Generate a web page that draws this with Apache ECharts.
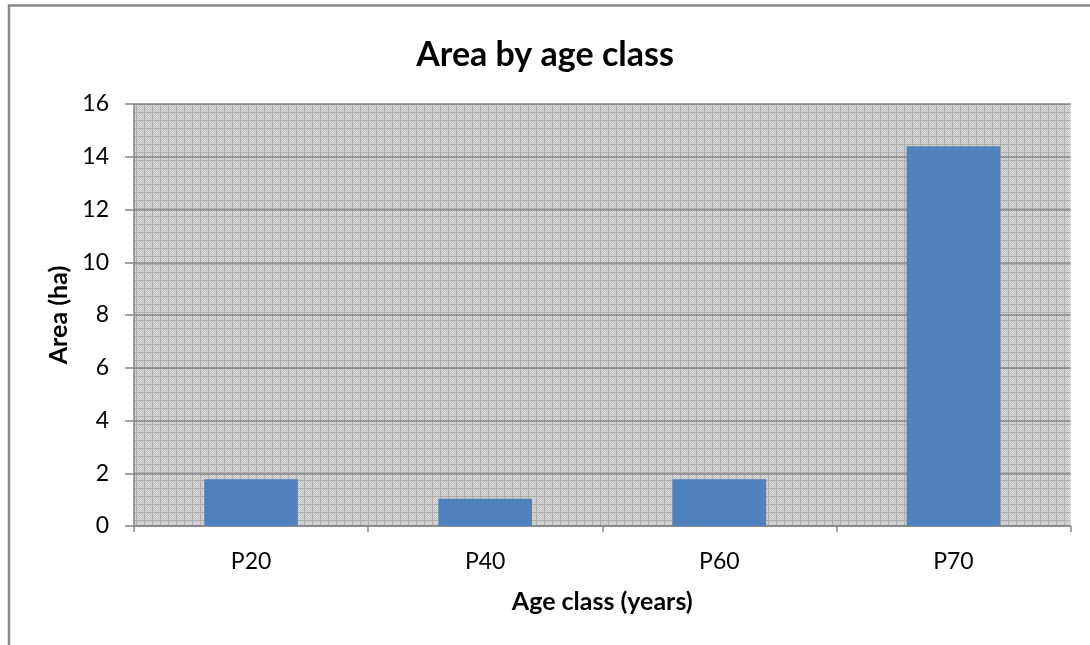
<!DOCTYPE html>
<html>
<head>
<meta charset="utf-8">
<script src="https://cdn.jsdelivr.net/npm/echarts@6/dist/echarts.min.js"></script>
<style>
  html, body { margin: 0; padding: 0; background: #ffffff; }
  #chart { width: 1090px; height: 645px; }
</style>
</head>
<body>
<div id="chart"></div>
<script>
// Age classes and their area in hectares
const categories = ['P20', 'P40', 'P60', 'P70'];
const areaHa = [1.77, 1.03, 1.77, 14.4];
const yTicks = { min: 0, max: 16, interval: 2 };

const titleText = 'Area by age class';
const xAxisTitle = 'Age class (years)';
const yAxisTitle = 'Area (ha)';

// Small cross-hatched tile used as the plot-area fill
function makeHatchTile() {
  const c = document.createElement('canvas');
  c.width = 8; c.height = 8;
  const g = c.getContext('2d');
  for (let y = 0; y < 8; y++) {
    for (let x = 0; x < 8; x++) {
      let col;
      if (x === 0 || y === 0) col = '#acacac';
      else col = ((x + y) % 2 === 0) ? '#dadada' : '#c2c2c2';
      g.fillStyle = col;
      g.fillRect(x, y, 1, 1);
    }
  }
  return c;
}

const font = 'Lato, "Open Sans", sans-serif';
const axisGrey = '#868686';

const chart = echarts.init(document.getElementById('chart'), null, { renderer: 'canvas' });

chart.setOption({
  backgroundColor: '#ffffff',
  animation: false,
  title: {
    text: titleText,
    left: 'center',
    top: 33,
    textStyle: { fontFamily: font, fontSize: 34, fontWeight: 'bold', color: '#000000' }
  },
  grid: {
    left: 134,
    right: 19.5,
    top: 104,
    bottom: 119,
    show: true,
    borderWidth: 0,
    backgroundColor: { image: makeHatchTile(), repeat: 'repeat' }
  },
  graphic: [
    {
      type: 'polyline',
      shape: { points: [[9, 645], [9, 5.5], [1090, 5.5]] },
      style: { stroke: '#8a8a8a', lineWidth: 2.5, fill: null },
      silent: true
    }
  ],
  xAxis: {
    type: 'category',
    data: categories,
    boundaryGap: true,
    name: xAxisTitle,
    nameLocation: 'middle',
    nameGap: 63,
    nameTextStyle: { fontFamily: font, fontSize: 25, fontWeight: 'bold', color: '#000000' },
    axisLine: { show: true, lineStyle: { color: axisGrey, width: 1.5 } },
    axisTick: { show: true, length: 6, alignWithLabel: false, interval: 0, lineStyle: { color: axisGrey, width: 1.5 } },
    axisLabel: { fontFamily: font, fontSize: 23, color: '#000000', margin: 24 },
    splitLine: { show: false }
  },
  yAxis: {
    type: 'value',
    min: yTicks.min,
    max: yTicks.max,
    interval: yTicks.interval,
    name: yAxisTitle,
    nameLocation: 'middle',
    nameGap: 62,
    nameTextStyle: { fontFamily: font, fontSize: 25, fontWeight: 'bold', color: '#000000' },
    axisLine: { show: true, lineStyle: { color: axisGrey, width: 1.5 } },
    axisTick: { show: true, length: 9, inside: false, lineStyle: { color: axisGrey, width: 1.5 } },
    axisLabel: { fontFamily: font, fontSize: 23, color: '#000000', margin: 25 },
    splitLine: { show: true, lineStyle: { color: axisGrey, width: 1.5 } }
  },
  series: [
    {
      type: 'bar',
      data: areaHa,
      barCategoryGap: '60%',
      itemStyle: { color: '#4f81bd' },
      silent: true
    }
  ]
});
</script>
</body>
</html>
